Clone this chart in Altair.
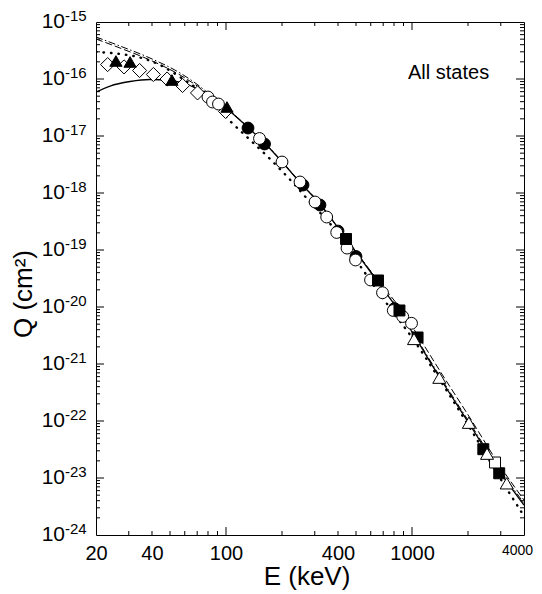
import altair as alt
import pandas as pd

# ---------------- data ----------------
# open diamonds
diam_open_E = [23.1, 28.3, 34.3, 40.7, 48.2, 58.4, 70.3, 99.4]
diam_open_Q = [1.79e-16, 1.63e-16, 1.41e-16, 1.20e-16, 1.0e-16, 7.7e-17, 5.7e-17, 2.7e-17]
# filled triangles
tri_fill_E = [25.6, 30.5, 51.2, 101.2]
tri_fill_Q = [2.07e-16, 1.99e-16, 9.6e-17, 3.23e-17]
# open circles
circ_open_E = [80.0, 84.6, 91.1, 151.4, 200, 249.9, 301, 347.8, 393.7, 447.3, 496.9,
               598.4, 694, 793, 891, 994]
circ_open_Q = [4.83e-17, 3.95e-17, 3.64e-17, 9.04e-18, 3.50e-18, 1.56e-18, 6.95e-19,
               3.79e-19, 2.03e-19, 1.08e-19, 6.68e-20, 2.98e-20, 1.78e-20, 8.69e-21,
               6.81e-21, 5.18e-21]
# filled circles
circ_fill_E = [131.3, 161.1, 259.4, 320, 400, 499.8, 805]
circ_fill_Q = [1.38e-17, 7.24e-18, 1.38e-18, 6.15e-19, 2.15e-19, 7.69e-20, 9.4e-21]
# filled squares
sq_fill_E = [441.8, 656.5, 856, 1071, 2417, 2943]
sq_fill_Q = [1.56e-19, 2.92e-20, 8.69e-21, 2.92e-21, 3.2e-23, 1.21e-23]
# open squares
sq_open_E = [2794]
sq_open_Q = [1.87e-23]
# open triangles
tri_open_E = [1025, 1402, 2021, 2531, 3229]
tri_open_Q = [2.75e-21, 5.75e-22, 9.33e-23, 2.67e-23, 8.07e-24]

# theory curves: energies (keV) and log10(Q)
solid_E = [20, 23.8, 30.5, 39.0, 50.0, 64.0, 82.0, 100, 131.3, 162.1, 202.5, 249.9, 320,
           410, 525, 673, 862, 1038, 1414, 2050, 2972, 4000]
solid_logQ = [-16.228, -16.123, -16.044, -16.009, -16.026, -16.114, -16.298, -16.509,
              -16.851, -17.132, -17.474, -17.816, -18.193, -18.658, -19.132, -19.614,
              -20.096, -20.526, -21.246, -22.070, -22.895, -23.474]

dashed_E = [20, 26.9, 39.0, 56.6, 72.5, 87.3, 100, 131.3, 162.1, 202.5, 249.9, 320, 410,
            525, 673, 862, 1104, 1414, 2050, 2972, 4000]
dashed_logQ = [-15.298, -15.456, -15.667, -15.930, -16.158, -16.368, -16.509, -16.851,
               -17.132, -17.474, -17.816, -18.193, -18.658, -19.125, -19.579, -20.018,
               -20.561, -21.123, -21.947, -22.789, -23.386]

dashdot_E = [20, 26.9, 39.0, 56.6, 72.5, 87.3, 100, 131.3, 162.1, 202.5, 249.9, 320, 410,
             525, 673, 862, 1038, 1414, 2050, 2972, 4000]
dashdot_logQ = [-15.263, -15.421, -15.632, -15.895, -16.132, -16.351, -16.500, -16.845,
                -17.125, -17.466, -17.808, -18.185, -18.650, -19.122, -19.600, -20.080,
                -20.505, -21.220, -22.040, -22.860, -23.440]

dotted_E = [20, 26.9, 34.5, 44.2, 56.6, 72.5, 87.3, 105.1, 129.7, 174.6, 232.1, 282.9,
            371.5, 545, 761.6, 1013, 1414, 2050, 2972, 4000]
dotted_logQ = [-15.526, -15.561, -15.623, -15.754, -15.965, -16.211, -16.456, -16.737,
               -17.018, -17.421, -17.842, -18.158, -18.579, -19.351, -20.018, -20.561,
               -21.281, -22.123, -23.000, -23.667]

# axes
x_label_values = [20, 40, 100, 400, 1000, 4000]
x_major_ticks = [100, 1000]
x_minor_ticks = [30, 40, 50, 60, 70, 80, 90, 200, 300, 400, 500, 600, 700, 800, 900,
                 2000, 3000]
y_exponents = [-15, -16, -17, -18, -19, -20, -21, -22, -23, -24]

# ---------------- chart ----------------
FONT = "Liberation Sans"
W, H = 428, 513
xs = alt.Scale(type="log", domain=[20, 4000], nice=False)
ys = alt.Scale(type="log", domain=[1e-24, 1e-15], nice=False)

x_axis = alt.Axis(values=x_label_values, format="d", ticks=False, domain=False,
                  grid=False, title=None, labelFont=FONT,
                  labelFontSize={"condition": {"test": "datum.value == 4000", "value": 14},
                                 "value": 20},
                  labelOffset={"condition": {"test": "datum.value == 4000", "value": -7},
                               "value": 0},
                  labelColor="black", labelPadding=8, labelFlush=False,
                  labelOverlap=False)


def X(f):
    return alt.X(f, type="quantitative", scale=xs, axis=x_axis)


def Y(f):
    return alt.Y(f, type="quantitative", scale=ys, axis=None)


layers = []

# ticks
def xticks(vals, L):
    b = alt.Chart(pd.DataFrame({"v": vals})).mark_rule(color="black", strokeWidth=1)
    return [b.encode(x=X("v"), y=alt.value(H), y2=alt.value(H - L)),
            b.encode(x=X("v"), y=alt.value(0), y2=alt.value(L))]


def yticks(vals, L):
    b = alt.Chart(pd.DataFrame({"v": vals})).mark_rule(color="black", strokeWidth=1)
    return [b.encode(y=Y("v"), x=alt.value(0), x2=alt.value(L)),
            b.encode(y=Y("v"), x=alt.value(W), x2=alt.value(W - L))]


y_major_vals = [10.0 ** e for e in y_exponents[1:-1]]
y_minor_vals = [m * 10.0 ** e for e in range(-24, -15) for m in range(2, 10)]

layers += xticks(x_major_ticks, 8)
layers += xticks(x_minor_ticks, 4)
layers += yticks(y_major_vals, 8)
layers += yticks(y_minor_vals, 4)


def curve(E, logQ, dash=None, width=1.2, cap="butt"):
    df = pd.DataFrame({"E": E, "Q": [10.0 ** v for v in logQ]})
    kw = dict(interpolate="monotone", color="black", strokeWidth=width, clip=True,
              strokeCap=cap)
    if dash:
        kw["strokeDash"] = dash
    return alt.Chart(df).mark_line(**kw).encode(x=X("E"), y=Y("Q"), order="E:Q")


layers.append(curve(dotted_E, dotted_logQ, dash=[0.5, 7], width=2.4, cap="round"))
layers.append(curve(dashdot_E, dashdot_logQ, dash=[7, 2.5, 1.5, 2.5], width=1.0))
layers.append(curve(dashed_E, dashed_logQ, dash=[7, 3], width=1.0))
layers.append(curve(solid_E, solid_logQ, width=1.3))


def pts(E, Q, shape, fill, size):
    df = pd.DataFrame({"E": E, "Q": Q})
    return alt.Chart(df).mark_point(shape=shape, filled=True, fill=fill, stroke="black",
                                    strokeWidth=1, size=size, opacity=1).encode(
        x=X("E"), y=Y("Q"))


layers.append(pts(diam_open_E, diam_open_Q, "diamond", "white", 200))
layers.append(pts(circ_fill_E, circ_fill_Q, "circle", "black", 140))
layers.append(pts(circ_open_E, circ_open_Q, "circle", "white", 140))
layers.append(pts(tri_fill_E, tri_fill_Q, "triangle-up", "black", 150))
layers.append(pts(sq_fill_E, sq_fill_Q, "square", "black", 120))
layers.append(pts(sq_open_E, sq_open_Q, "square", "white", 120))
layers.append(pts(tri_open_E, tri_open_Q, "triangle-up", "white", 170))

# y tick labels 10^n
ylab = pd.DataFrame({"v": [10.0 ** e for e in y_exponents],
                     "base": ["10"] * len(y_exponents),
                     "sup": [str(e) for e in y_exponents]})
layers.append(alt.Chart(ylab).mark_text(align="right", baseline="middle", fontSize=21,
                                        font=FONT, color="black").encode(
    y=Y("v"), x=alt.value(-31), text="base:N"))
layers.append(alt.Chart(ylab).mark_text(align="left", baseline="middle", fontSize=15,
                                        font=FONT, color="black", dy=-6).encode(
    y=Y("v"), x=alt.value(-31), text="sup:N"))

# titles and annotation
def label(txt, x, y, size, angle=0, align="center"):
    m = dict(align=align, baseline="middle", fontSize=size, font=FONT, color="black")
    if angle:
        m["angle"] = angle
    return alt.Chart(pd.DataFrame({"t": [txt]})).mark_text(**m).encode(
        text="t:N", x=alt.value(x), y=alt.value(y))


layers.append(label("All states", 312, 51, 20, align="left"))
layers.append(label("E (keV)", 211, 555, 26))
layers.append(label("Q (cm²)", -72, 272, 26, angle=270))

chart = alt.layer(*layers).properties(
    width=W, height=H,
    autosize=alt.AutoSizeParams(type="none"),
    padding={"left": 88, "top": 14, "right": 10, "bottom": 57},
).configure_view(stroke="black", strokeWidth=1)

chart.save("out.html", embed_options={"renderer": "svg", "actions": False})
